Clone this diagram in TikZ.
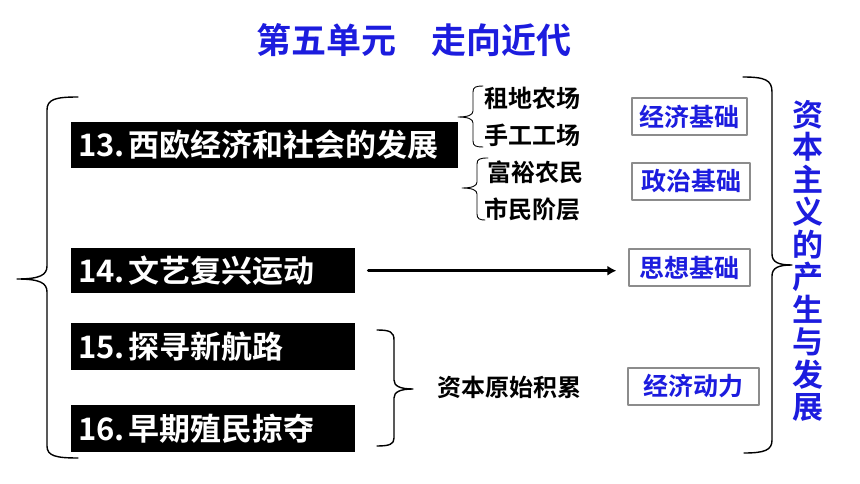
\documentclass[tikz,border=0pt]{standalone}
\usepackage{fontspec}
\setmainfont{Noto Sans CJK SC}[BoldFont={Noto Sans CJK SC Bold}]
\usetikzlibrary{arrows.meta}
\definecolor{unitblue}{RGB}{28,28,222}
\definecolor{framegray}{RGB}{140,140,140}

\begin{document}
\begin{tikzpicture}[x=1pt, y=-1pt, >=Latex, line cap=round, line join=round,
	topic/.style={fill=black, text=white, anchor=north west, align=left,
		inner xsep=7pt, inner ysep=0pt, font=\fontsize{31}{33}\selectfont\bfseries},
	base/.style={draw=framegray, line width=1.2pt, text=unitblue, inner sep=0pt,
		minimum height=37pt, font=\fontsize{25}{27}\selectfont\bfseries},
	item/.style={font=\fontsize{24}{26}\selectfont\bfseries},
	brace/.style={line width=1.4pt},
	subbrace/.style={line width=0.9pt}]

\useasboundingbox (0,0) rectangle (860,484);

% ==== Title ====
\node[text=unitblue, font=\fontsize{35}{37}\selectfont\bfseries] (title) at (414,40)
	{第五单元\hspace{1em}走向近代};

% ==== Left: lessons ====
\node[topic, text width=373pt, minimum height=46pt] (west13) at (71,122) {13.\hspace{4pt}西欧经济和社会的发展};
\node[topic, text width=270pt, minimum height=45pt] (renai14) at (71,248) {14.\hspace{4pt}文艺复兴运动};
\node[topic, text width=270pt, minimum height=47pt] (route15) at (71,323) {15.\hspace{4pt}探寻新航路};
\node[topic, text width=270pt, minimum height=47pt] (colony16) at (71,405) {16.\hspace{4pt}早期殖民掠夺};

% big left brace
\draw[brace] (78,97) .. controls (56,97) and (47,99) .. (47,110) -- (47,266)
	.. controls (47,275) and (40,279) .. (17,279)
	.. controls (40,279) and (47,283) .. (47,292) -- (47,446)
	.. controls (47,456) and (56,458) .. (78,458);

% ==== Middle: details of 13 ====
\node[item] (farm) at (532,98) {租地农场};
\node[item] (craft) at (532,135) {手工工场};
\node[item] (peasant) at (535,172) {富裕农民};
\node[item] (burgher) at (532,209) {市民阶层};

\draw[subbrace] (483,86) .. controls (476,86) and (473,87) .. (473,92) -- (473,111)
	.. controls (473,115) and (468,117) .. (458,117)
	.. controls (468,117) and (473,119) .. (473,123) -- (473,141)
	.. controls (473,146) and (476,147) .. (483,147);
\draw[subbrace] (488,158) .. controls (480,158) and (477,159) .. (477,164) -- (477,182)
	.. controls (477,186) and (472,188) .. (462,188)
	.. controls (472,188) and (477,190) .. (477,194) -- (477,214)
	.. controls (477,219) and (480,220) .. (485,220);

% brace of 15 and 16
\draw[brace] (377,330) .. controls (390,330) and (394,332) .. (394,340) -- (394,380)
	.. controls (394,386) and (400,389) .. (413,389)
	.. controls (400,389) and (394,392) .. (394,398) -- (394,438)
	.. controls (394,444) and (390,446) .. (377,446);
\node[item] (accum) at (509,387) {资本原始积累};

% ==== Right: foundations ====
\node[base, minimum width=115pt] (econ) at (689.5,116.5) {经济基础};
\node[base, minimum width=118pt] (polit) at (691,181.5) {政治基础};
\node[base, minimum width=121pt] (thought) at (689.5,267.5) {思想基础};
\node[base, minimum width=131pt] (power) at (693.5,386.5) {经济动力};

\draw[-{Latex[length=9pt,width=10pt]}, line width=3pt, shorten <=13pt, shorten >=12pt]
	(renai14.east) -- (renai14.east -| thought.west);

% big right brace
\draw[brace] (743,77) .. controls (765,77) and (772,80) .. (772,92) -- (772,254)
	.. controls (772,262) and (778,265) .. (792,265)
	.. controls (778,265) and (772,268) .. (772,276) -- (772,440)
	.. controls (772,450) and (765,453) .. (744,453);

\node[text=unitblue, align=center, inner sep=0pt,
	font=\fontsize{31}{32.5}\selectfont\bfseries] (capital) at (808,261)
	{资\\本\\主\\义\\的\\产\\生\\与\\发\\展};

\end{tikzpicture}
\end{document}
